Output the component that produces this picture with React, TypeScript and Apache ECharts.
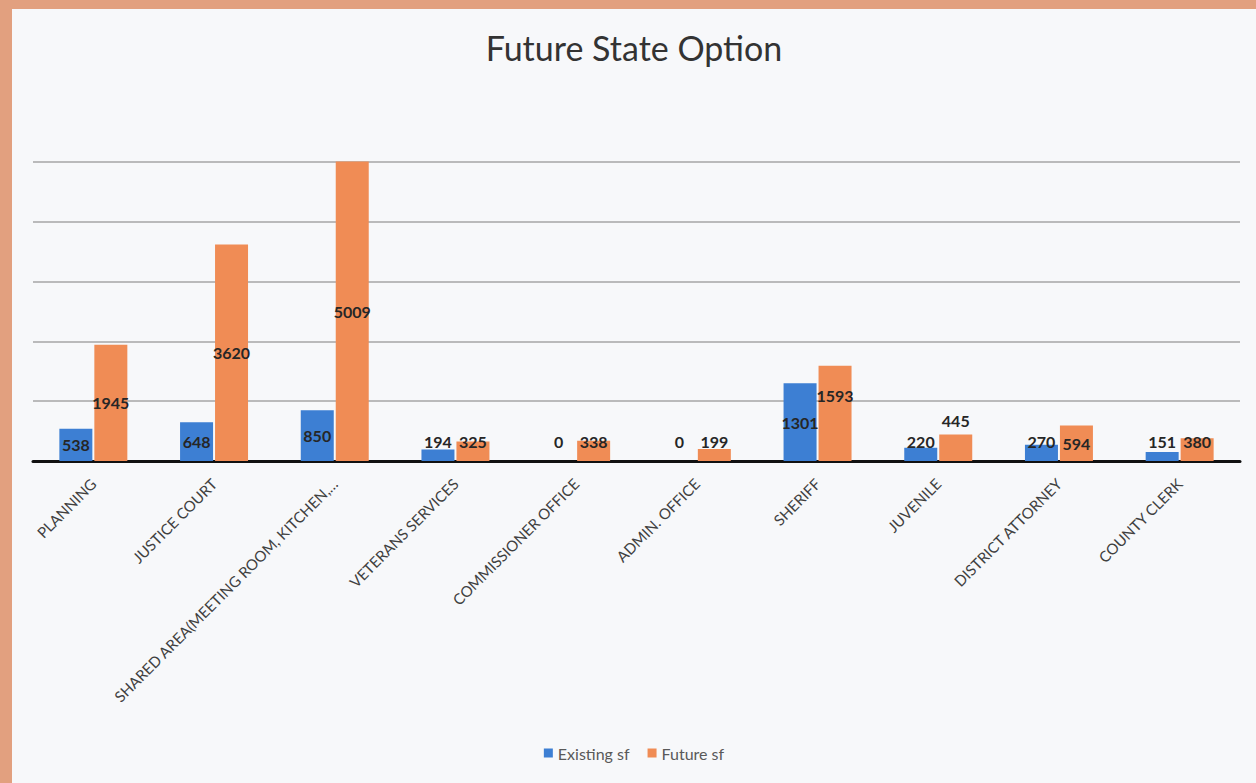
import React, { useEffect, useRef } from "react";
import * as echarts from "echarts";

const categories = [
  "PLANNING",
  "JUSTICE COURT",
  "SHARED AREA(MEETING ROOM, KITCHEN,…",
  "VETERANS SERVICES",
  "COMMISSIONER OFFICE",
  "ADMIN. OFFICE",
  "SHERIFF",
  "JUVENILE",
  "DISTRICT ATTORNEY",
  "COUNTY CLERK",
];
const existingSf = [538, 648, 850, 194, 0, 0, 1301, 220, 270, 151];
const futureSf = [1945, 3620, 5009, 325, 338, 199, 1593, 445, 594, 380];
const seriesNames = ["Existing sf", "Future sf"];
const chartTitle = "Future State Option";

const BLUE = "#3d7fd3";
const ORANGE = "#f08c55";

const labelBase = {
  show: true,
  fontFamily: "Lato",
  fontWeight: "bold" as const,
  fontSize: 16,
  color: "#262626",
};

function labelFor(value: number, name: string, idx: number) {
  if (name === "Future sf" && idx === 6) {
    return { ...labelBase, position: "inside", offset: [0, -18] };
  }
  if (name === "Future sf" && idx === 7) {
    return { ...labelBase, position: "top", distance: 6 };
  }
  if (value >= 500) {
    return { ...labelBase, position: "inside" };
  }
  return { ...labelBase, position: "insideBottom", distance: 12 };
}

function buildData(values: number[], name: string) {
  return values.map((v, i) => ({ value: v, label: labelFor(v, name, i) }));
}

export default function App() {
  const ref = useRef<HTMLDivElement>(null);

  useEffect(() => {
    document.body.style.margin = "0";
    if (!ref.current) return;
    const chart = echarts.init(ref.current, null, { renderer: "svg" });
    chart.setOption({
      animation: false,
      backgroundColor: "#f7f8fa",
      title: {
        text: chartTitle,
        left: "center",
        top: 16,
        textStyle: {
          fontFamily: "Lato",
          fontSize: 34,
          fontWeight: "normal",
          color: "#333333",
        },
      },
      legend: {
        bottom: 17,
        left: "center",
        itemWidth: 9,
        itemHeight: 9,
        itemGap: 18,
        icon: "rect",
        textStyle: { fontFamily: "Lato", fontSize: 16, color: "#595959" },
        data: seriesNames,
      },
      grid: { left: 21, right: 16, top: 153, bottom: 322, containLabel: false },
      xAxis: {
        type: "category",
        data: categories,
        axisLine: { show: true, lineStyle: { color: "#111111", width: 3 } },
        axisTick: { show: false },
        axisLabel: {
          rotate: 45,
          interval: 0,
          margin: 20,
          fontFamily: "Lato",
          fontSize: 15,
          color: "#404040",
        },
      },
      yAxis: {
        type: "value",
        min: 0,
        max: 5000,
        interval: 1000,
        axisLabel: { show: false },
        axisLine: { show: false },
        axisTick: { show: false },
        splitLine: { lineStyle: { color: "#a6a6a6", width: 1.5 } },
      },
      series: [
        {
          name: seriesNames[0],
          type: "bar",
          barWidth: 33,
          barGap: "6%",
          clip: false,
          itemStyle: { color: BLUE },
          data: buildData(existingSf, seriesNames[0]),
        },
        {
          name: seriesNames[1],
          type: "bar",
          barWidth: 33,
          barGap: "6%",
          clip: false,
          itemStyle: { color: ORANGE },
          data: buildData(futureSf, seriesNames[1]),
        },
      ],
    });
    return () => chart.dispose();
  }, []);

  return (
    <div
      style={{
        width: 1256,
        height: 783,
        background: "#e2a07f",
        position: "relative",
        overflow: "hidden",
      }}
    >
      <div
        ref={ref}
        style={{ position: "absolute", left: 12, top: 9, width: 1244, height: 774 }}
      />
    </div>
  );
}
